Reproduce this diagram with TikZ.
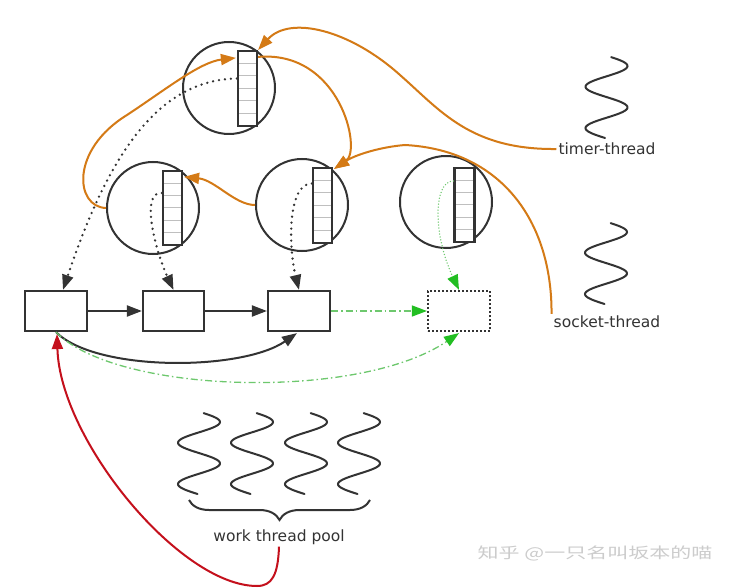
\documentclass[tikz,border=0pt]{standalone}
\usepackage{fontspec}
\usepackage{graphicx}
\newfontfamily\labelfont{DejaVu Sans}
\newfontfamily\cjkfont{Noto Sans CJK SC}
\usetikzlibrary{arrows.meta,calc,decorations.pathreplacing}
\definecolor{dark}{RGB}{51,51,51}
\definecolor{orng}{RGB}{212,122,22}
\definecolor{redc}{RGB}{196,16,28}
\definecolor{grnline}{RGB}{110,200,110}
\definecolor{grntip}{RGB}{34,190,34}
\newcommand\spring[2]{\draw[thread] plot[domain=13:716, samples=90, smooth, variable=\t] ({#1+21*sin(\t)}, {#2+(\t-90)*0.115});}
\tikzset{
  tip/.style={-{Triangle[length=15pt,width=11pt]}},
  circ/.style={circle, draw=dark, line width=2pt, minimum size=92pt, inner sep=0pt},
  queue/.style={draw=dark, line width=2.2pt, fill=white, minimum width=19pt, minimum height=75pt, inner sep=0pt,
    path picture={\foreach \i in {1,...,5}{\draw[gray!50, line width=1pt]
      ($(path picture bounding box.north west)!\i/6!(path picture bounding box.south west)$) --
      ($(path picture bounding box.north east)!\i/6!(path picture bounding box.south east)$);}}},
  box/.style={draw=dark, line width=2.2pt, minimum width=62pt, minimum height=40pt, inner sep=0pt, fill=white},
  ghostbox/.style={draw=dark, line width=2.2pt, dash pattern=on 2pt off 2pt, minimum width=62pt, minimum height=40pt, inner sep=0pt},
  flow/.style={draw=dark, line width=2pt, tip},
  dots/.style={draw=dark, line width=2.6pt, line cap=round, dash pattern=on 0pt off 6pt, tip},
  gdots/.style={draw=grnline, line width=1.5pt, line cap=round, dash pattern=on 0pt off 3pt, -{Triangle[length=15pt,width=11pt,color=grntip]}},
  gdash/.style={draw=grnline, line width=1.3pt, dash pattern=on 7pt off 3pt on 1.5pt off 3pt, -{Triangle[length=15pt,width=11pt,color=grntip]}},
  oarrow/.style={draw=orng, line width=2pt, tip},
  rarrow/.style={draw=redc, line width=2pt, tip},
  thread/.style={draw=dark, line width=2pt, line cap=round},
  lbl/.style={font=\labelfont\fontsize{15.5}{17}\selectfont, text=dark, inner sep=2pt},
}
\begin{document}
\begin{tikzpicture}[x=1pt,y=-1pt]
\fill[white] (0,0) rectangle (734,588);
\useasboundingbox (0,0) rectangle (734,588);

% circles
\node[circ] (c1) at (229,88) {};
\node[circ] (ca) at (153,208) {};
\node[circ] (cb) at (302,205) {};
\node[circ] (cc) at (446,202) {};

% queues
\node[queue] (q1) at (247.5,88.5) {};
\node[queue, minimum height=74pt] (qa) at (172.5,208) {};
\node[queue] (qb) at (322.5,205.5) {};
\node[queue, minimum width=20pt, minimum height=74pt] (qc) at (464.5,205) {};

% boxes
\node[box] (b1) at (56,311) {};
\node[box, minimum width=61pt] (b2) at (173.5,311) {};
\node[box] (b3) at (299,311) {};
\node[ghostbox] (b4) at (459,311) {};

% labels
\node[lbl] (timer) at (607,149) {timer-thread};
\node[lbl] (socket) at (607,322) {socket-thread};
\node[lbl] (pool) at (279,537) {work thread pool};
\node[text=gray!40, inner sep=0pt] (wm) at (595,553) {\scalebox{1.4}[1]{\cjkfont\fontsize{15}{15}\selectfont 知乎 @一只名叫坂本的喵}};

% threads
\spring{606.5}{66}
\spring{606}{232}
\spring{199}{422}
\spring{252}{422}
\spring{306}{422}
\spring{359}{422}

% brace
\draw[dark, line width=2pt, decorate, decoration={brace, amplitude=20pt}] (370,500) -- (189,500);

% box flow
\draw[flow] (b1.east) -- (b2.west);
\draw[flow] (b2.east) -- (b3.west);
\draw[flow] (b1.south) .. controls +(40,40) and +(-55,38) .. ($(b3.south)+(-2,1)$);
\draw[gdash] (b3.east) -- (b4.west);
\draw[gdash] (b1.south) .. controls +(60,62) and +(-100,68) .. ($(b4.south)+(0,1)$);

% dotted hand-offs
\draw[dots] ($(q1.west)+(0,-10)$) .. controls (160,80) and (110,150) .. ($(b1.north)+(7,0)$);
\draw[dots] ($(qa.west)+(0,-15)$) .. controls (140,191) and (155,250) .. (b2.north);
\draw[dots] ($(qb.west)+(0,-22)$) .. controls (288,183) and (288,245) .. (b3.north);
\draw[gdots] ($(qc.west)+(0,-24)$) .. controls (433,181) and (433,235) .. (b4.north);

% orange arrows
\draw[oarrow] (timer.west) .. controls (470,150) and (440,110) .. (400,75)
  .. controls (350,30) and (290,15) .. (q1.north east);
\draw[oarrow] ($(q1.north east)+(0,7)$) .. controls (340,50) and (362,150) .. ($(qb.north east)+(1,2)$);
\draw[oarrow] (socket.north west) .. controls (552,220) and (500,150) .. (405,145)
  .. controls (380,147) and (355,155) .. ($(qb.north east)+(1,2)$);
\draw[oarrow] (cb.west) .. controls (235,205) and (215,180) .. ($(qa.north east)+(1,7)$);
\draw[oarrow] (ca.west) .. controls (75,207) and (70,150) .. (127,115)
  .. controls (165,90) and (200,62) .. ($(q1.north west)+(-1,8)$);

% red arrow
\draw[rarrow] (pool.south) .. controls (278,575) and (272,586) .. (257,586)
  .. controls (180,586) and (60,440) .. ($(b1.south)+(1,2)$);
\end{tikzpicture}
\end{document}
